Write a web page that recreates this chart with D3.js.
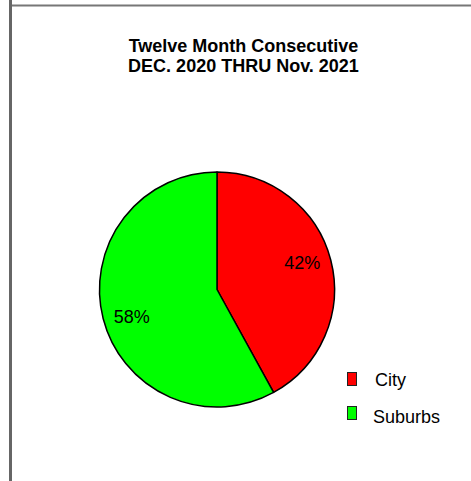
<!DOCTYPE html>
<html>
<head>
<meta charset="utf-8">
<script src="https://cdn.jsdelivr.net/npm/d3@7"></script>
<style>
  body { margin: 0; background: #fff; }
  svg { display: block; font-family: "Liberation Sans", Arial, sans-serif; }
</style>
</head>
<body>
<script>
const categories = ["City", "Suburbs"];
const values = [42, 58];
const colors = ["#ff0000", "#00ff00"];
const titleLines = ["Twelve Month Consecutive", "DEC. 2020 THRU Nov. 2021"];

const width = 471;
const height = 481;
const cx = 217;
const cy = 289.5;
const radius = 117.5;

const svg = d3.select("body")
  .append("svg")
  .attr("width", width)
  .attr("height", height);

// frame: gray top rule and left rule
svg.append("line")
  .attr("x1", 11).attr("y1", 5.5)
  .attr("x2", width).attr("y2", 5.5)
  .attr("stroke", "#777").attr("stroke-width", 2);
svg.append("line")
  .attr("x1", 10.5).attr("y1", 0)
  .attr("x2", 10.5).attr("y2", height)
  .attr("stroke", "#666").attr("stroke-width", 3);

svg.append("text")
  .attr("x", 243.5)
  .attr("text-anchor", "middle")
  .attr("font-size", 18)
  .attr("font-weight", "bold")
  .selectAll("tspan")
  .data(titleLines)
  .join("tspan")
  .attr("x", 243.5)
  .attr("y", (d, i) => 52 + i * 20)
  .text(d => d);

const pie = d3.pie().sort(null).value(d => d);
const arcs = pie(values);
const arc = d3.arc().innerRadius(0).outerRadius(radius);

// labels sit a bit counter-clockwise of the slice middle
const labelR = radius * 0.76;
const labelPos = d => {
  const a = (d.startAngle + d.endAngle) / 2 - 3 * Math.PI / 180;
  return [labelR * Math.sin(a), -labelR * Math.cos(a)];
};

const g = svg.append("g").attr("transform", `translate(${cx},${cy})`);

g.selectAll("path")
  .data(arcs)
  .join("path")
  .attr("d", arc)
  .attr("fill", (d, i) => colors[i])
  .attr("stroke", "#000")
  .attr("stroke-width", 1.5)
  .attr("stroke-linejoin", "round");

g.selectAll("text")
  .data(arcs)
  .join("text")
  .attr("transform", d => `translate(${labelPos(d)})`)
  .attr("text-anchor", "middle")
  .attr("dy", "0.36em")
  .attr("font-size", 18)
  .text(d => `${d.data}%`);

const legend = svg.append("g")
  .selectAll("g")
  .data(categories)
  .join("g")
  .attr("transform", (d, i) => `translate(347,${372 + i * 34})`);

legend.append("rect")
  .attr("x", 0.5).attr("y", 0.5)
  .attr("width", 9).attr("height", 13)
  .attr("fill", (d, i) => colors[i])
  .attr("stroke", "#222")
  .attr("stroke-width", 1);

legend.append("text")
  .attr("x", (d, i) => i === 0 ? 28 : 26)
  .attr("y", (d, i) => i === 0 ? 13.5 : 17)
  .attr("font-size", 18)
  .text(d => d);
</script>
</body>
</html>
